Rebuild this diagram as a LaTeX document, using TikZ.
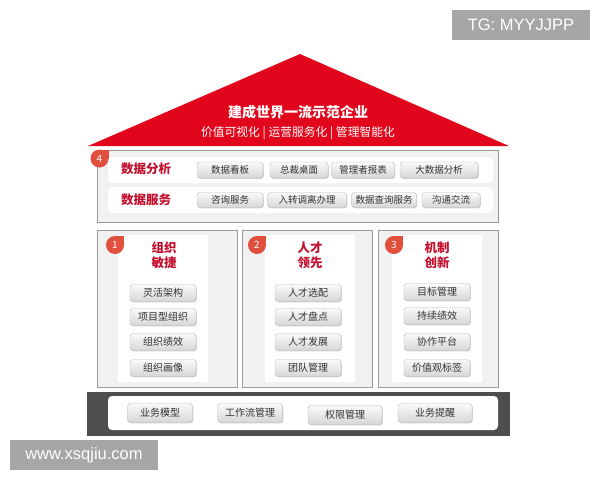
\documentclass[tikz,border=0pt]{standalone}
\usepackage{fontspec}
\setmainfont{Noto Sans CJK SC}
\newfontfamily\wmfont{Liberation Sans}
\usetikzlibrary{shadows}
\definecolor{roofred}{HTML}{E1061C}
\definecolor{titlered}{HTML}{C3102E}
\definecolor{panelgray}{HTML}{F1F1F1}
\definecolor{edgegray}{HTML}{9A9A9A}
\definecolor{darkband}{HTML}{4E4E4E}
\definecolor{badgered}{HTML}{E0503C}
\definecolor{wmgray}{HTML}{A6A6A6}
\tikzset{
  btn/.style={rounded corners=3pt, draw=gray!55, top color=white!96!gray, bottom color=gray!32,
    drop shadow={shadow xshift=0.8pt, shadow yshift=-0.8pt, opacity=0.35},
    inner sep=0pt, font=\fontsize{9.5}{11}\selectfont, text=black!80},
  pbtn/.style={btn, minimum width=66pt, minimum height=17pt, font=\fontsize{10}{12}\selectfont},
  panel/.style={fill=panelgray, draw=edgegray, line width=0.6pt},
  band/.style={fill=white, rounded corners=4pt},
  rowlabel/.style={text=titlered, font=\bfseries\fontsize{12.5}{14}\selectfont},
  ptitle/.style={text=titlered, font=\bfseries\fontsize{12.5}{15}\selectfont, align=center},
  badge/.style={fill=badgered},
  badgetext/.style={text=white, font=\fontsize{10}{11}\selectfont, inner sep=0pt},
  wm/.style={fill=wmgray, text=white, font=\wmfont\fontsize{16.5}{18}\selectfont, inner sep=0pt}
}
\begin{document}
\begin{tikzpicture}[x=1pt,y=-1pt]
\useasboundingbox (0,0) rectangle (600,480);
\fill[white] (0,0) rectangle (600,480);

% roof
\fill[roofred] (88,146) -- (300,54) -- (509,146) -- cycle;
\node[text=white, font=\bfseries\fontsize{14}{16}\selectfont] (roofTitle) at (298,112) {建成世界一流示范企业};
\node[text=white, font=\fontsize{11.8}{14}\selectfont] (roofSub) at (298,133) {价值可视化 | 运营服务化 | 管理智能化};

% section 4
\draw[panel] (97,150) rectangle (498,222);
\fill[band] (108,157) rectangle (493,183);
\fill[band] (108,187) rectangle (493,213);
\node[rowlabel] (lblA) at (146,169) {数据分析};
\node[rowlabel] (lblS) at (146,200) {数据服务};
\node[btn, minimum width=66pt, minimum height=16pt] (a1) at (230,170) {数据看板};
\node[btn, minimum width=58pt, minimum height=16pt] (a2) at (299,170) {总裁桌面};
\node[btn, minimum width=63pt, minimum height=16pt] (a3) at (363,170) {管理者报表};
\node[btn, minimum width=78pt, minimum height=16pt] (a4) at (439,170) {大数据分析};
\node[btn, minimum width=66pt, minimum height=15pt] (s1) at (230,200) {咨询服务};
\node[btn, minimum width=79pt, minimum height=15pt] (s2) at (307,200) {入转调离办理};
\node[btn, minimum width=65pt, minimum height=15pt] (s3) at (384,200) {数据查询服务};
\node[btn, minimum width=58pt, minimum height=15pt] (s4) at (451,200) {沟通交流};
\fill[badge] (99.5,158.5) circle (9pt);
\fill[badge] (99.5,158.5) rectangle (108.5,149.5);
\node[badgetext] (b4) at (99.5,158.5) {4};

% pillars
\foreach \xl/\xr/\cx in {97/237/163, 242/372/310, 378/498/437}{
  \draw[panel] (\xl,230) rectangle (\xr,387);
  \fill[white] (\cx-45,235) rectangle (\cx+45,382);
}
\node[ptitle] (t1) at (164,255) {组织\\敏捷};
\node[ptitle] (t2) at (310,255) {人才\\领先};
\node[ptitle] (t3) at (437,255) {机制\\创新};

\node[pbtn] (p11) at (163,293) {灵活架构};
\node[pbtn] (p12) at (163,317) {项目型组织};
\node[pbtn] (p13) at (163,342) {组织绩效};
\node[pbtn] (p14) at (163,368) {组织画像};
\node[pbtn] (p21) at (308,293) {人才选配};
\node[pbtn] (p22) at (308,317) {人才盘点};
\node[pbtn] (p23) at (308,342) {人才发展};
\node[pbtn] (p24) at (308,368) {团队管理};
\node[pbtn] (p31) at (437,292) {目标管理};
\node[pbtn] (p32) at (437,316) {持续绩效};
\node[pbtn] (p33) at (437,342) {协作平台};
\node[pbtn] (p34) at (437,368) {价值观标签};

\foreach \bx/\n in {115/1, 257/2, 394/3}{
  \fill[badge] (\bx,245) circle (9pt);
  \fill[badge] (\bx,245) rectangle (\bx+9,236);
  \node[badgetext] (badge\n) at (\bx,245) {\n};
}

% foundation
\fill[darkband] (87,392) rectangle (510,436);
\fill[band] (108,396) rectangle (498,430);
\node[pbtn, minimum width=65pt, minimum height=19pt] (f1) at (160,413) {业务模型};
\node[pbtn, minimum width=65pt, minimum height=19pt] (f2) at (250,413) {工作流管理};
\node[pbtn, minimum width=74pt, minimum height=19pt] (f3) at (345,415) {权限管理};
\node[pbtn, minimum width=74pt, minimum height=19pt] (f4) at (435,413) {业务提醒};

% watermarks
\node[wm, minimum width=138pt, minimum height=30pt] (wm1) at (521,25) {TG: MYYJJPP};
\node[wm, minimum width=148pt, minimum height=30pt] (wm2) at (84,455) {www.xsqjiu.com};
\end{tikzpicture}
\end{document}
